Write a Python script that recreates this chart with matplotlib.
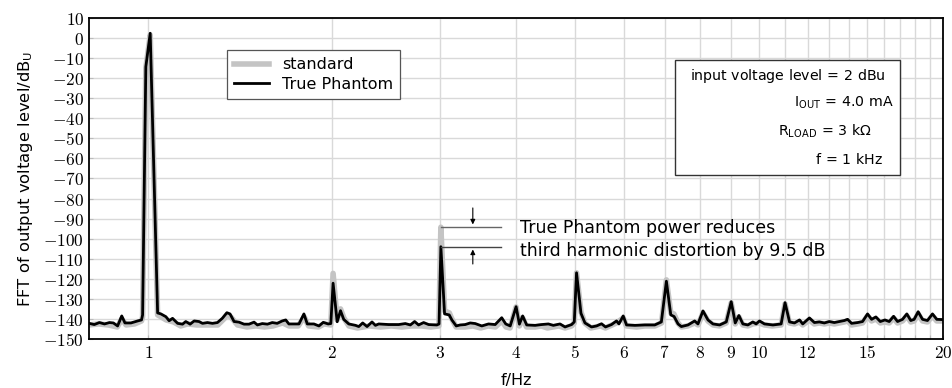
import matplotlib
matplotlib.use("Agg")
import matplotlib.pyplot as plt
from matplotlib.patches import Rectangle

# --- data ---
tp_f = [0.80, 0.816, 0.832, 0.848, 0.864, 0.877, 0.891, 0.905, 0.916, 0.937, 0.961, 0.975, 0.979,
        0.991, 1.0075, 1.036, 1.049, 1.069, 1.082, 1.096, 1.117, 1.138, 1.152, 1.171, 1.189, 1.211,
        1.227, 1.250, 1.274, 1.298, 1.322, 1.345, 1.361, 1.382, 1.408, 1.435, 1.462, 1.490, 1.509,
        1.537, 1.567, 1.596, 1.626, 1.657, 1.679, 1.699, 1.732, 1.765, 1.798, 1.821, 1.867, 1.903,
        1.934, 1.970, 1.990, 2.007, 2.038, 2.064, 2.089, 2.129, 2.184, 2.211, 2.244, 2.281, 2.324,
        2.354, 2.384, 2.475, 2.570, 2.635, 2.685, 2.729, 2.770, 2.823, 2.877, 2.968, 2.992, 3.0125,
        3.055, 3.109, 3.140, 3.192, 3.240, 3.302, 3.365, 3.429, 3.515, 3.605, 3.697, 3.789, 3.847,
        3.912, 4.000, 4.050, 4.100, 4.163, 4.297, 4.405, 4.517, 4.603, 4.720, 4.810, 4.931, 4.981,
        5.023, 5.108, 5.185, 5.315, 5.417, 5.519, 5.603, 5.731, 5.839, 5.893, 5.989, 6.064, 6.258,
        6.498, 6.745, 6.915, 7.047, 7.165, 7.255, 7.364, 7.456, 7.646, 7.840, 7.938, 8.089, 8.243,
        8.399, 8.614, 8.831, 8.997, 9.135, 9.262, 9.402, 9.581, 9.761, 9.883, 10.01, 10.20, 10.53,
        10.86, 11.02, 11.21, 11.42, 11.64, 11.78, 12.08, 12.31, 12.54, 12.78, 13.02, 13.27, 13.52,
        13.78, 13.95, 14.16, 14.49, 14.76, 15.04, 15.27, 15.52, 15.78, 16.06, 16.32, 16.59, 16.84,
        17.16, 17.44, 17.70, 17.93, 18.20, 18.50, 18.85, 19.21, 19.52, 19.87, 20.2]
tp_db = [-142.2, -142.8, -141.8, -142.5, -141.8, -142.0, -143.5, -138.5, -142.0, -142.0, -141.0, -140.5, -138.0,
         -14.3, 2.4, -137.0, -137.5, -138.9, -140.9, -139.7, -142.2, -142.6, -141.3, -142.6, -141.0, -141.3,
         -142.2, -141.8, -142.2, -141.8, -139.7, -136.9, -137.5, -141.3, -141.6, -142.6, -142.6, -141.6, -143.0,
         -142.3, -142.6, -141.8, -142.2, -141.0, -140.5, -142.5, -142.5, -142.5, -137.5, -142.5, -142.5, -143.5,
         -141.7, -142.5, -142.3, -122.2, -141.4, -135.9, -140.2, -142.5, -143.2, -143.8, -142.0, -143.8, -141.5,
         -143.2, -142.5, -142.8, -142.8, -142.3, -143.0, -141.3, -143.0, -141.8, -142.8, -143.0, -142.5, -104.0,
         -137.5, -138.0, -140.5, -143.5, -143.0, -142.8, -142.0, -142.3, -143.5, -142.5, -142.8, -139.4, -142.5,
         -143.5, -133.9, -142.6, -138.5, -143.0, -143.2, -142.8, -142.5, -143.2, -142.5, -144.0, -142.8, -141.5,
         -117.0, -137.2, -142.0, -144.0, -143.5, -142.4, -144.0, -142.8, -141.0, -142.5, -138.5, -143.0, -143.2,
         -143.0, -143.0, -141.5, -121.2, -138.0, -138.8, -142.5, -143.8, -143.0, -141.0, -142.5, -136.0, -140.5,
         -142.5, -143.0, -141.5, -131.4, -142.0, -138.3, -142.5, -143.0, -141.5, -142.5, -141.0, -142.5, -143.0,
         -142.5, -131.9, -141.5, -142.0, -140.5, -142.5, -139.5, -141.8, -141.5, -142.0, -141.3, -141.8, -141.3,
         -140.8, -140.2, -142.2, -141.8, -141.3, -137.5, -140.2, -139.0, -141.3, -140.5, -141.3, -138.7, -141.3,
         -140.2, -137.5, -140.8, -140.2, -136.4, -140.2, -140.8, -137.5, -140.2, -140.3, -140.5]

std_f = [0.80, 0.83, 0.86, 0.89, 0.905, 0.92, 0.95, 0.975, 0.979, 0.991, 1.0075, 1.036, 1.05, 1.07,
         1.10, 1.13, 1.16, 1.20, 1.25, 1.30, 1.33, 1.345, 1.365, 1.40, 1.45, 1.50, 1.55, 1.60, 1.66,
         1.70, 1.76, 1.80, 1.83, 1.90, 1.94, 1.99, 2.007, 2.038, 2.064, 2.09, 2.13, 2.20, 2.30, 2.40,
         2.50, 2.60, 2.70, 2.80, 2.90, 2.99, 3.0125, 3.055, 3.11, 3.14, 3.19, 3.30, 3.40, 3.50, 3.60,
         3.70, 3.79, 3.85, 3.91, 4.00, 4.05, 4.10, 4.16, 4.30, 4.40, 4.50, 4.60, 4.70, 4.81, 4.93, 4.98,
         5.023, 5.108, 5.18, 5.30, 5.50, 5.60, 5.84, 5.99, 6.06, 6.30, 6.50, 6.75, 6.92, 7.047, 7.165,
         7.25, 7.36, 7.46, 7.64, 7.84, 7.94, 8.09, 8.24, 8.40, 8.61, 8.83, 8.997, 9.135, 9.26, 9.40,
         9.58, 9.76, 10.0, 10.2, 10.5, 10.86, 11.02, 11.2, 11.42, 11.64, 11.78, 12.08, 12.3, 12.54,
         12.78, 13.02, 13.27, 13.52, 13.78, 13.95, 14.16, 14.49, 14.76, 15.04, 15.27, 15.52, 15.78,
         16.05, 16.32, 16.59, 16.84, 17.16, 17.44, 17.7, 17.93, 18.2, 18.5, 18.85, 19.21, 19.52, 19.87, 20.2]
std_db = [-143.0, -142.5, -143.0, -144.0, -140.0, -143.0, -142.5, -141.0, -139.0, -15.0, 1.5, -138.0, -139.0, -140.5,
          -141.5, -143.5, -142.5, -143.0, -143.0, -143.0, -140.0, -138.0, -139.0, -143.0, -144.0, -143.5, -144.0, -143.5, -142.0,
          -143.5, -143.5, -139.0, -143.5, -144.0, -142.5, -143.0, -117.3, -140.5, -135.0, -139.5, -143.5, -144.5, -143.5, -144.0,
          -143.5, -144.0, -143.5, -143.5, -144.0, -143.5, -94.3, -136.0, -137.0, -140.0, -144.0, -144.0, -143.5, -144.5, -143.5,
          -144.0, -141.0, -144.0, -144.5, -134.0, -143.5, -139.5, -144.0, -144.0, -143.5, -144.5, -144.0, -143.5, -144.5, -143.5, -142.0,
          -117.0, -136.5, -142.0, -144.5, -143.5, -144.5, -142.0, -139.5, -143.5, -144.0, -143.5, -143.5, -142.0, -120.5, -137.0,
          -137.5, -142.0, -144.0, -143.5, -142.0, -143.0, -137.0, -141.0, -143.0, -143.5, -142.0, -132.0, -142.5, -139.0, -143.0,
          -143.5, -142.5, -142.0, -143.0, -143.5, -143.0, -132.5, -142.0, -142.5, -141.5, -143.0, -140.5, -142.5, -142.0,
          -142.5, -142.0, -142.5, -142.0, -141.5, -141.0, -143.0, -142.5, -142.0, -138.5, -141.0, -140.0, -142.0,
          -141.5, -142.0, -139.5, -142.0, -141.0, -138.5, -141.5, -141.0, -137.5, -141.0, -141.5, -138.5, -141.0, -141.0, -141.0]

x_ticks = [1, 2, 3, 4, 5, 6, 7, 8, 9, 10, 12, 15, 20]
x_minor = [11, 13, 14, 16, 17, 18, 19]
y_ticks = list(range(-150, 11, 10))

# 3rd harmonic levels for the annotation
h3_standard = -94.3
h3_truephantom = -104.0

plt.rcParams["font.family"] = "DejaVu Sans"

fig = plt.figure(figsize=(9.53, 3.88), dpi=100)
ax = fig.add_axes([0.0934, 0.1263, 0.8963, 0.8273])

ax.plot(std_f, std_db, color="#c4c4c4", lw=4, solid_joinstyle="round", label="standard", zorder=3)
ax.plot(tp_f, tp_db, color="black", lw=2.0, solid_joinstyle="round", label="True Phantom", zorder=4)

ax.set_xscale("log")
ax.set_xlim(0.8, 20)
ax.set_ylim(-150, 10)

ax.set_xticks(x_ticks)
ax.set_xticks(x_minor, minor=True)
ax.set_xticklabels([f"${t}$" for t in x_ticks])
ax.set_xticklabels([], minor=True)
ax.set_yticks(y_ticks)
ax.set_yticklabels([f"${t}$" for t in y_ticks])
for lab in ax.get_xticklabels() + ax.get_yticklabels():
    lab.set_math_fontfamily("cm")
    lab.set_fontsize(12.5)

ax.tick_params(which="both", direction="in", length=3, color="#bbbbbb", width=0.8)
ax.grid(True, which="both", color="#d9d9d9", lw=1.0, zorder=0)
ax.set_axisbelow(True)
for s in ax.spines.values():
    s.set_linewidth(1.3)
    s.set_zorder(6)

ax.set_xlabel("f/Hz", fontsize=11.5, labelpad=8)
ax.set_ylabel(r"FFT of output voltage level/dB$_\mathrm{U}$", fontsize=11.8, labelpad=6)
ax.yaxis.label.set_math_fontfamily("dejavusans")

leg = ax.legend(loc="upper left", bbox_to_anchor=(0.152, 0.925), fontsize=11.5,
                fancybox=False, framealpha=1, edgecolor="#555555", handlelength=2.2,
                borderpad=0.45, labelspacing=0.3)
leg.get_frame().set_linewidth(0.9)

# info box
ax.add_patch(Rectangle((0.686, 0.511), 0.264, 0.358, transform=ax.transAxes,
                       facecolor="white", edgecolor="#333333", lw=1.0, zorder=5))
info = [r"input voltage level$\,=\,$2 dBu",
        r"I$_\mathrm{OUT}$$\,=\,$4.0 mA",
        r"R$_\mathrm{LOAD}$$\,=\,$3 k$\Omega$",
        r"f$\,=\,$1 kHz"]
info_y = [0.82, 0.735, 0.647, 0.558]
info_x = [0.932, 0.942, 0.917, 0.929]
for s, yy, xx in zip(info, info_y, info_x):
    t = ax.text(xx, yy, s, transform=ax.transAxes, ha="right", va="center",
                fontsize=10.2, zorder=7)
    t.set_math_fontfamily("dejavusans")

# annotation of third harmonic difference
ax.plot([3.0125, 3.784], [h3_standard, h3_standard], color="#666666", lw=1.0, zorder=5)
ax.plot([3.0125, 3.784], [h3_truephantom, h3_truephantom], color="#444444", lw=1.0, zorder=5)
ax.annotate("", xy=(3.398, h3_standard), xytext=(3.398, h3_standard + 11),
            arrowprops=dict(arrowstyle="-|>", color="black", lw=0.8, mutation_scale=7))
ax.annotate("", xy=(3.398, h3_truephantom), xytext=(3.398, h3_truephantom - 10),
            arrowprops=dict(arrowstyle="-|>", color="black", lw=0.8, mutation_scale=7))
ax.text(4.06, -94.7, "True Phantom power reduces", fontsize=12.5, va="center", ha="left", zorder=7)
ax.text(4.06, -106.3, "third harmonic distortion by 9.5 dB", fontsize=12.5, va="center", ha="left", zorder=7)

fig.savefig("out.png", dpi=100)
